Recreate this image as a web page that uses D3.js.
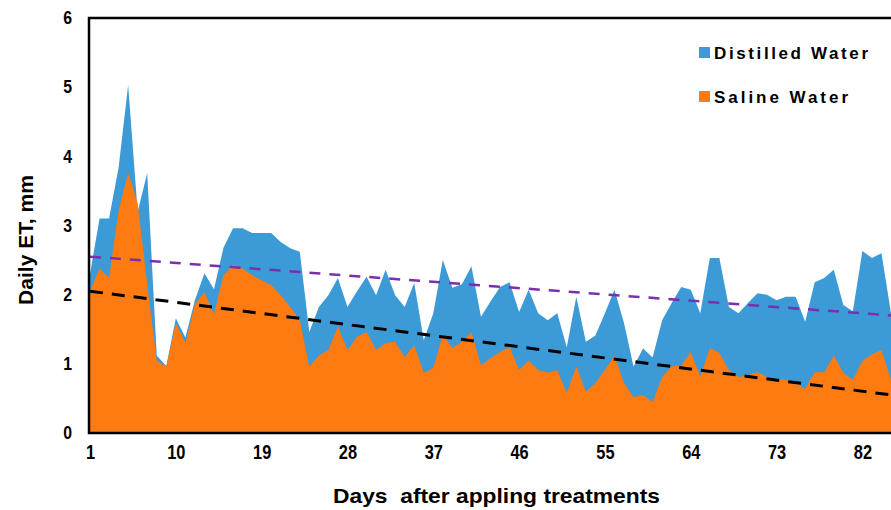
<!DOCTYPE html>
<html>
<head>
<meta charset="utf-8">
<script src="https://cdn.jsdelivr.net/npm/d3@7"></script>
<style>
  body { margin: 0; background: #fff; }
  svg text { font-family: "Liberation Sans", Arial, sans-serif; font-weight: bold; }
</style>
</head>
<body>
<div id="chart"></div>
<script>
// days after applying treatments
var days = d3.range(1, 86);

// daily ET (mm), distilled water
var distilled = [2.3, 3.1, 3.1, 3.84, 5.03, 3.2, 3.76, 1.12, 0.97, 1.66,
  1.38, 1.92, 2.31, 2.08, 2.68, 2.96, 2.96, 2.89, 2.89, 2.89,
  2.76, 2.67, 2.62, 1.46, 1.82, 1.99, 2.24, 1.82, 2.05, 2.26,
  1.99, 2.36, 1.99, 1.82, 2.17, 1.34, 1.73, 2.5, 2.1, 2.15,
  2.41, 1.68, 1.9, 2.11, 2.18, 1.75, 2.07, 1.73, 1.63, 1.73,
  1.24, 1.97, 1.32, 1.41, 1.73, 2.07, 1.59, 0.96, 1.22, 1.09,
  1.63, 1.88, 2.11, 2.07, 1.73, 2.53, 2.53, 1.82, 1.73, 1.88,
  2.02, 2.0, 1.92, 1.97, 1.97, 1.61, 2.18, 2.24, 2.36, 1.85,
  1.76, 2.63, 2.53, 2.6, 1.73];

// daily ET (mm), saline water
var saline = [2.05, 2.38, 2.24, 3.22, 3.76, 3.32, 2.15, 1.05, 0.96, 1.59,
  1.3, 1.86, 2.04, 1.72, 2.28, 2.43, 2.38, 2.28, 2.21, 2.14,
  1.99, 1.82, 1.63, 0.96, 1.12, 1.2, 1.54, 1.2, 1.39, 1.46,
  1.2, 1.3, 1.32, 1.1, 1.27, 0.87, 0.94, 1.42, 1.23, 1.32,
  1.46, 0.98, 1.08, 1.17, 1.24, 0.91, 1.05, 0.91, 0.87, 0.91,
  0.58, 0.96, 0.6, 0.72, 0.91, 1.12, 0.72, 0.52, 0.55, 0.45,
  0.81, 0.96, 0.98, 1.17, 0.81, 1.23, 1.16, 0.91, 0.81, 0.84,
  0.88, 0.81, 0.78, 0.77, 0.72, 0.64, 0.88, 0.88, 1.12, 0.87,
  0.77, 1.04, 1.14, 1.2, 0.77];

// linear trend lines (value at first and last day)
var trendDays = [1, 85];
var trendDistilled = [2.55, 1.70];
var trendSaline = [2.05, 0.55];

var xTicks = [1, 10, 19, 28, 37, 46, 55, 64, 73, 82];
var yTicks = [0, 1, 2, 3, 4, 5, 6];

var width = 891, height = 510;
var margin = {top: 18, right: 0, bottom: 77, left: 90};

var svg = d3.select("#chart")
  .append("svg")
  .attr("width", width)
  .attr("height", height);

var x = d3.scaleLinear()
  .domain([1, 85])
  .range([margin.left, width - margin.right]);

var y = d3.scaleLinear()
  .domain([0, 6])
  .range([height - margin.bottom, margin.top]);

svg.append("clipPath").attr("id", "plot")
  .append("rect")
  .attr("x", margin.left).attr("y", margin.top)
  .attr("width", width - margin.left).attr("height", y(0) - margin.top);

var plot = svg.append("g").attr("clip-path", "url(#plot)");

function area(vals) {
  return d3.area()
    .x(function(d, i) { return x(days[i]); })
    .y0(y(0))
    .y1(function(d) { return y(d); })(vals);
}

plot.append("path").attr("d", area(distilled)).attr("fill", "#3c9ad7");
plot.append("path").attr("d", area(saline)).attr("fill", "#fd7b10");

var line = d3.line()
  .x(function(d, i) { return x(trendDays[i]); })
  .y(function(d) { return y(d); });

plot.append("path")
  .attr("d", line(trendDistilled))
  .attr("fill", "none")
  .attr("stroke", "#7a2fb0")
  .attr("stroke-width", 2.5)
  .attr("stroke-dasharray", "11,9");

plot.append("path")
  .attr("d", line(trendSaline))
  .attr("fill", "none")
  .attr("stroke", "#000")
  .attr("stroke-width", 3)
  .attr("stroke-dasharray", "13,9");

// plot frame
svg.append("rect")
  .attr("x", margin.left - 1).attr("y", margin.top)
  .attr("width", width - margin.left + 5).attr("height", y(0) - margin.top)
  .attr("fill", "none")
  .attr("stroke", "#000")
  .attr("stroke-width", 2.5);

// axes (labels squeezed horizontally to look like a narrow face)
svg.append("g")
  .attr("transform", "translate(72,0)")
  .call(d3.axisLeft(y).tickValues(yTicks).tickSize(0).tickPadding(0).tickFormat(d3.format("d")))
  .call(function(g) { g.select(".domain").remove(); })
  .selectAll("text")
  .style("font-size", "18px")
  .attr("fill", "#000")
  .attr("transform", "scale(0.88,1)");

svg.append("g")
  .attr("transform", "translate(0," + y(0) + ")")
  .call(d3.axisBottom(x).tickValues(xTicks).tickSize(0).tickPadding(12))
  .call(function(g) { g.select(".domain").remove(); })
  .selectAll("text")
  .style("font-size", "20px")
  .attr("fill", "#000")
  .attr("transform", "scale(0.82,1)");

svg.append("text")
  .attr("x", 333)
  .attr("y", 503)
  .style("font-size", "21px")
  .style("white-space", "pre")
  .attr("textLength", 327)
  .attr("lengthAdjust", "spacingAndGlyphs")
  .text("Days  after appling treatments");

svg.append("text")
  .attr("transform", "translate(33,305) rotate(-90)")
  .style("font-size", "20px")
  .attr("textLength", 130)
  .attr("lengthAdjust", "spacingAndGlyphs")
  .text("Daily ET, mm");

// legend
var legend = [
  {name: "Distilled Water", color: "#3c9ad7", y: 53, w: 154},
  {name: "Saline Water", color: "#fd7b10", y: 97, w: 134}
];
var lg = svg.append("g");
lg.selectAll("rect").data(legend).enter().append("rect")
  .attr("x", 699).attr("y", function(d) { return d.y - 6; })
  .attr("width", 11).attr("height", 11)
  .attr("fill", function(d) { return d.color; });
lg.selectAll("text").data(legend).enter().append("text")
  .attr("x", 714).attr("y", function(d) { return d.y + 6; })
  .style("font-size", "17px")
  .attr("textLength", function(d) { return d.w; })
  .attr("lengthAdjust", "spacing")
  .text(function(d) { return d.name; });
</script>
</body>
</html>
